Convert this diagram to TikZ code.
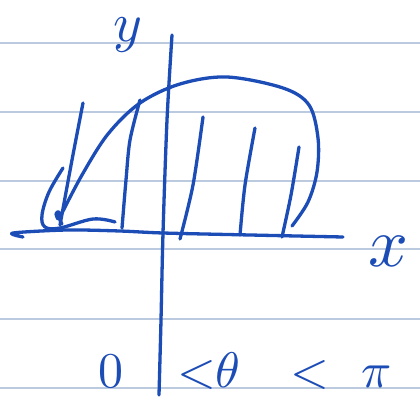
\documentclass[tikz,border=0pt]{standalone}
\begin{document}
\begin{tikzpicture}[x=1pt,y=-1pt,
  rule/.style={draw=rulecol,line width=1.4pt},
  pen/.style={draw=pencol,line width=3.3pt,line cap=round,line join=round},
  hand/.style={text=pencol,inner sep=0pt}]
\definecolor{rulecol}{RGB}{188,202,224}
\definecolor{pencol}{RGB}{28,76,182}
\fill[white] (0,0) rectangle (420,403);
\useasboundingbox (0,0) rectangle (420,403);
% ruled paper
\foreach \yy in {43,112,181,249,319,388}{\draw[rule] (0,\yy) -- (420,\yy);}
% axes
\draw[pen] plot[smooth,tension=0.5] coordinates {(172,35) (167,120) (163,233) (161,320) (159,395)};
\draw[pen] plot[smooth,tension=0.5] coordinates {(23,237) (13,233) (67,230) (120,231) (163,233) (250,235) (343,237)};
% main curve
\draw[pen] plot[smooth,tension=0.55] coordinates {(60,217) (82,175) (108,134) (140,103) (180,84) (227,77) (283,88) (309,105) (318,138) (317,172) (308,202) (292,226)};
% small loop near origin of curve
\draw[pen] plot[smooth,tension=0.6] coordinates {(63,168) (49,192) (42,215) (45,227) (60,228) (93,219) (115,222)};
\draw[pen] plot[smooth,tension=0.7] coordinates {(58,219) (56,214) (59,212) (60,220) (62,224)};
% hatching
\draw[pen] plot[smooth,tension=0.5] coordinates {(83,103) (72,160) (60,225)};
\draw[pen] plot[smooth,tension=0.5] coordinates {(140,100) (130,140) (126,180) (122,228)};
\draw[pen] plot[smooth,tension=0.5] coordinates {(203,117) (193,185) (180,239)};
\draw[pen] plot[smooth,tension=0.5] coordinates {(255,128) (245,185) (240,235)};
\draw[pen] plot[smooth,tension=0.5] coordinates {(299,147) (291,195) (282,237)};
% labels
\node[hand,anchor=base,scale=5.5] (ylab) at (128,42) {$y$};
\node[hand,anchor=base,scale=7] (xlab) at (388,266) {$x$};
\node[hand,anchor=base west,scale=5] (cond) at (97,387) {$0$\hspace{10.8pt}$<$$\theta$\hspace{9.9pt}$<$\hspace{6.4pt}$\pi$};
\end{tikzpicture}
\end{document}
